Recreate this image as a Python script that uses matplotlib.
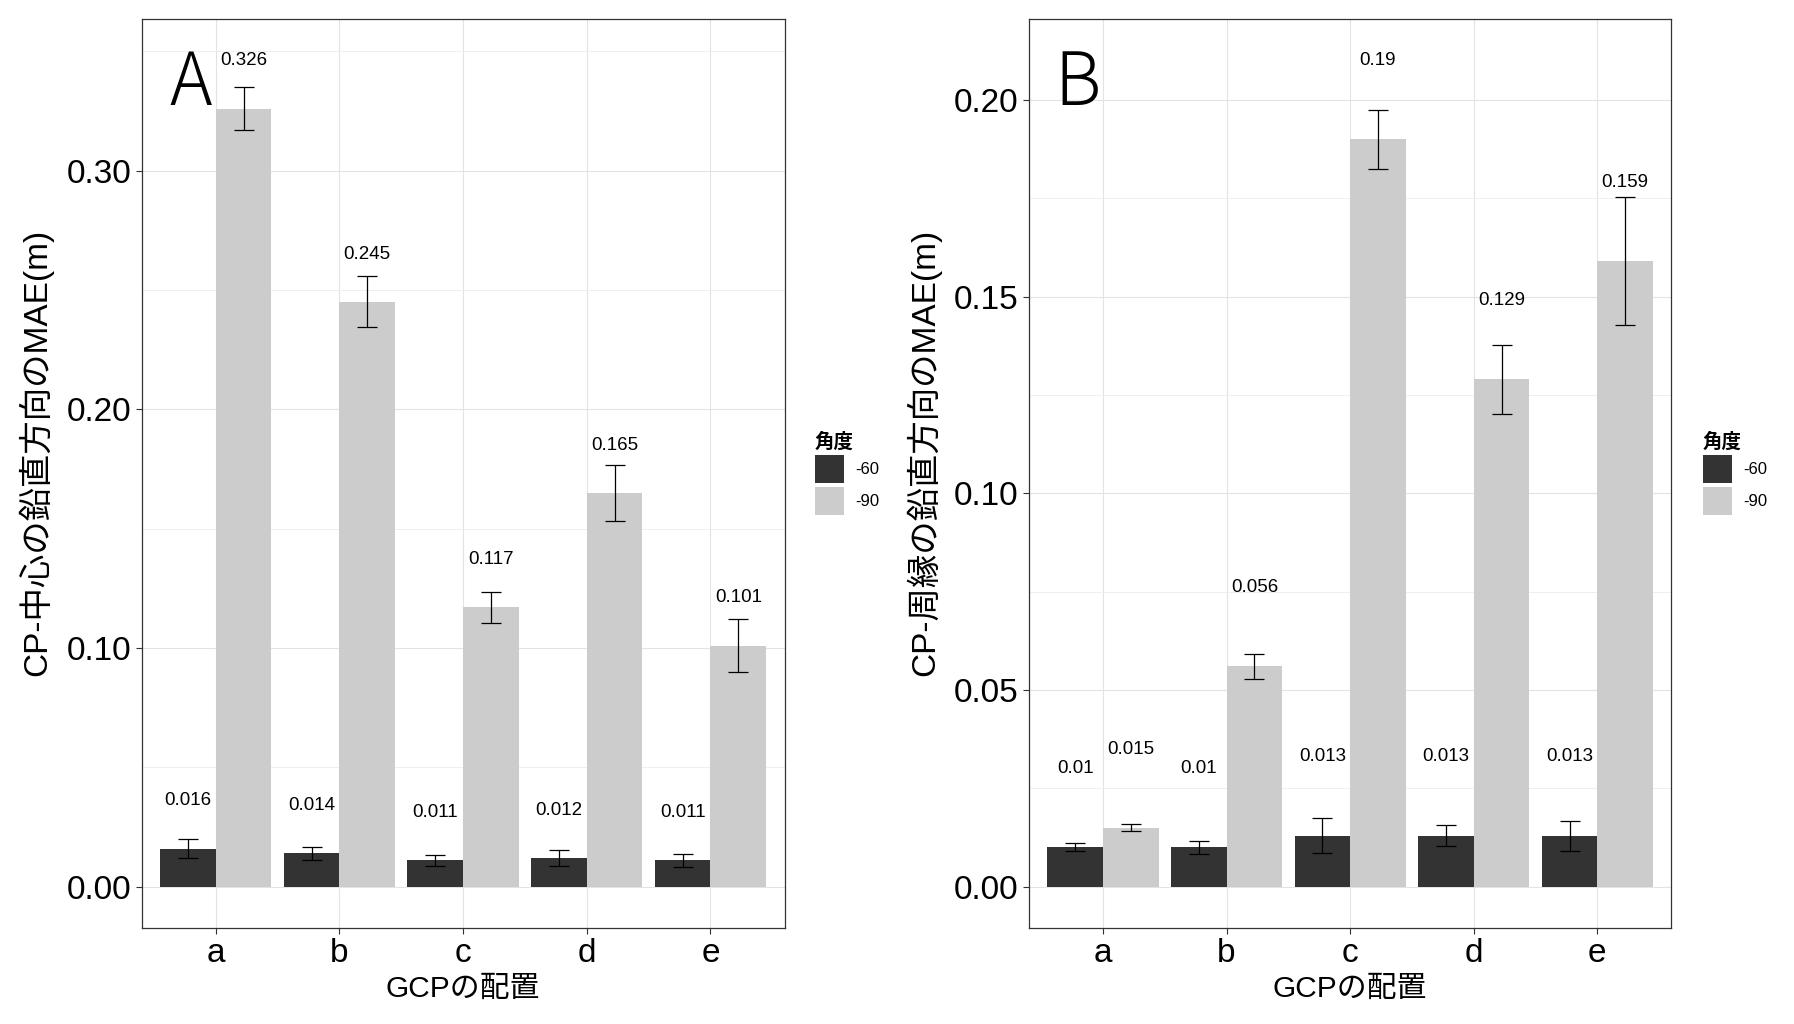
from typing import List
import matplotlib

matplotlib.use("Agg")
import matplotlib.pyplot as plt
from matplotlib.axes import Axes
from matplotlib.figure import Figure
from matplotlib.patches import Patch
from matplotlib.ticker import MultipleLocator, FormatStrFormatter

plt.rcParams["font.family"] = ["Liberation Sans", "Noto Sans CJK JP", "DejaVu Sans"]

CATEGORIES: List[str] = ["a", "b", "c", "d", "e"]
ANGLES: List[str] = ["-60", "-90"]

# panel A: CP-中心
A_MEAN_60: List[float] = [0.016, 0.014, 0.011, 0.012, 0.011]
A_MEAN_90: List[float] = [0.326, 0.245, 0.117, 0.165, 0.101]
A_ERR_60: List[float] = [0.0040, 0.0028, 0.0024, 0.0034, 0.0029]
A_ERR_90: List[float] = [0.0090, 0.0107, 0.0065, 0.0118, 0.0110]

# panel B: CP-周縁
B_MEAN_60: List[float] = [0.010, 0.010, 0.013, 0.013, 0.013]
B_MEAN_90: List[float] = [0.015, 0.056, 0.190, 0.129, 0.159]
B_ERR_60: List[float] = [0.0010, 0.0017, 0.0045, 0.0027, 0.0038]
B_ERR_90: List[float] = [0.0009, 0.0033, 0.0075, 0.0088, 0.0163]

COLORS: List[str] = ["#333333", "#CCCCCC"]
LABEL_OFFSET: float = 0.02
BAR_W: float = 0.45


def draw_panel(
    ax: Axes,
    means: List[List[float]],
    errs: List[List[float]],
    ylabel: str,
    letter: str,
    major: float,
) -> None:
    xs = list(range(1, len(CATEGORIES) + 1))
    for k, (m, e) in enumerate(zip(means, errs)):
        pos = [x + (k - 0.5) * BAR_W for x in xs]
        ax.bar(pos, m, width=BAR_W, color=COLORS[k], zorder=2, label=ANGLES[k])
        ax.errorbar(
            pos, m, yerr=e, fmt="none", ecolor="black", elinewidth=0.9,
            capsize=7, capthick=0.9, zorder=3,
        )
        for p, v in zip(pos, m):
            ax.text(p, v + LABEL_OFFSET, f"{v:g}", ha="center", va="center",
                    fontsize=13.5, zorder=4)
    top = max(v + LABEL_OFFSET for series in means for v in series)
    ax.set_ylim(-0.05 * top, top * 1.05)
    ax.set_xlim(0.4, len(CATEGORIES) + 0.6)
    ax.set_xticks(xs)
    ax.set_xticklabels(CATEGORIES)
    ax.yaxis.set_major_locator(MultipleLocator(major))
    ax.yaxis.set_minor_locator(MultipleLocator(major / 2))
    ax.yaxis.set_major_formatter(FormatStrFormatter("%.2f"))
    ax.grid(which="major", color="#E3E3E3", lw=0.8, zorder=0)
    ax.grid(which="minor", axis="y", color="#EDEDED", lw=0.6, zorder=0)
    ax.tick_params(axis="both", which="major", labelsize=24, length=4,
                   width=0.8, color="#333333", labelcolor="black")
    ax.tick_params(axis="y", which="minor", length=0)
    for s in ax.spines.values():
        s.set_color("#333333")
        s.set_linewidth(0.9)
    ax.set_axisbelow(True)
    ax.set_xlabel("GCPの配置", fontsize=21.5, labelpad=4)
    ax.set_ylabel(ylabel, fontsize=24)
    ax.yaxis.set_label_coords(-0.137, 0.523)
    ax.text(0.076, 0.928, letter, transform=ax.transAxes, ha="center",
            va="center", fontsize=52, fontweight="light",
            family=["Noto Sans CJK JP", "DejaVu Sans"])


def add_legend(fig: Figure, ax: Axes, x: float) -> None:
    handles = [Patch(facecolor=c, edgecolor="none") for c in COLORS]
    leg = ax.legend(
        handles, ANGLES, title="角度", loc="upper left",
        bbox_to_anchor=(x, 0.586), bbox_transform=fig.transFigure,
        frameon=False, fontsize=12, title_fontsize=14,
        handlelength=1.74, handleheight=2.2, handletextpad=0.7,
        labelspacing=0.22, alignment="left", borderpad=0,
    )
    leg.get_title().set_fontweight("bold")


fig: Figure = plt.figure(figsize=(17.94, 10.24), dpi=100)
ax_a: Axes = fig.add_axes([0.0789, 0.0937, 0.3585, 0.8873])
ax_b: Axes = fig.add_axes([0.5735, 0.0937, 0.3582, 0.8873])

draw_panel(ax_a, [A_MEAN_60, A_MEAN_90], [A_ERR_60, A_ERR_90],
           "CP-中心の鉛直方向のMAE(m)", "A", 0.10)
draw_panel(ax_b, [B_MEAN_60, B_MEAN_90], [B_ERR_60, B_ERR_90],
           "CP-周縁の鉛直方向のMAE(m)", "B", 0.05)
add_legend(fig, ax_a, 0.4495)
add_legend(fig, ax_b, 0.9445)

fig.savefig("out.png", dpi=100, facecolor="white")
